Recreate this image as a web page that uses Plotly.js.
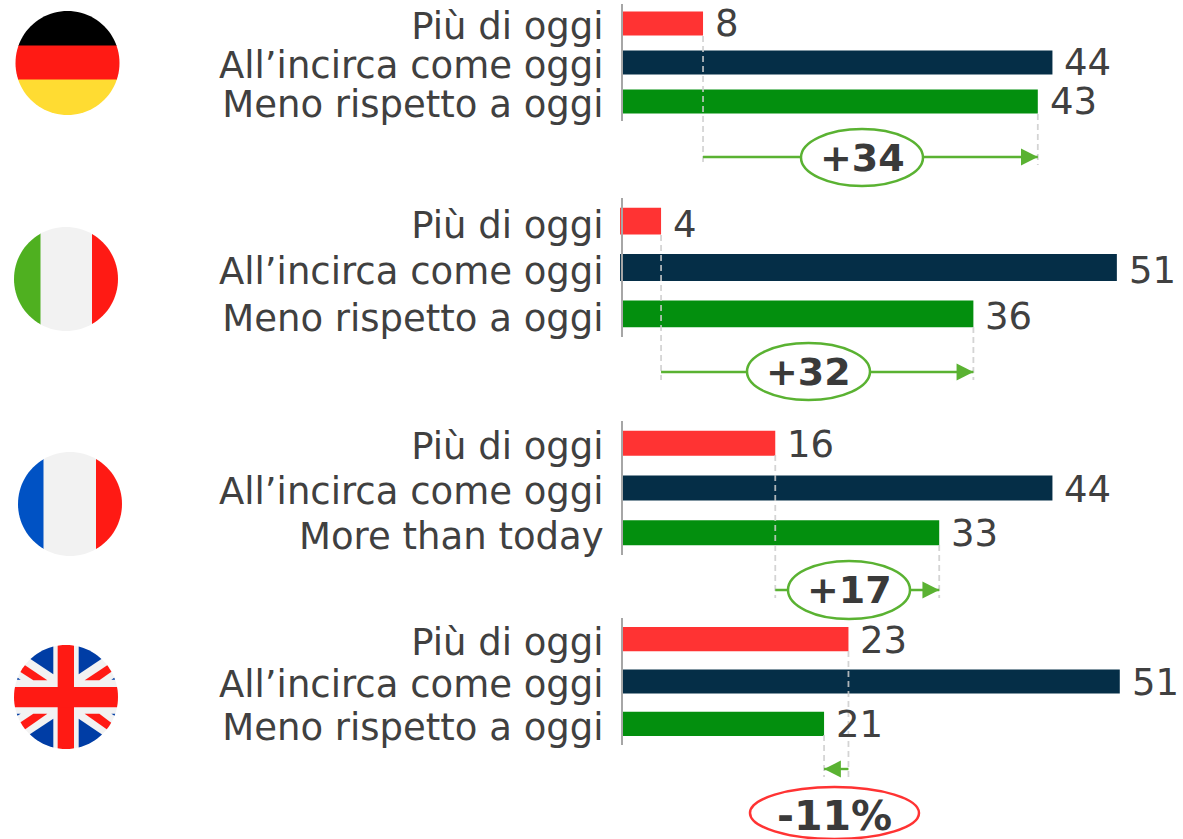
<!DOCTYPE html>
<html><head><meta charset="utf-8">
<script src="https://cdn.plot.ly/plotly-3.0.1.min.js"></script>
<style>html,body{margin:0;padding:0;background:#fff}#c{width:1183px;height:839px}</style></head>
<body><div id="c"></div>
<script>
const W = 1183, H = 839;
const labelsStd = ['Più di oggi', 'All’incirca come oggi', 'Meno rispetto a oggi'];
const labelsFr  = ['Più di oggi', 'All’incirca come oggi', 'More than today'];
// bar ends (unrounded), and the printed labels
const germanyValues = [8.2, 44.0, 42.5];
const italyValues   = [3.9, 50.6, 35.9];
const franceValues  = [15.6, 44.0, 32.4];
const ukValues      = [23.1, 50.9, 20.6];
const germanyLabels = ['8', '44', '43'];
const italyLabels   = ['4', '51', '36'];
const franceLabels  = ['16', '44', '33'];
const ukLabels      = ['23', '51', '21'];
const deltaLabels   = ['+34', '+32', '+17', '-11%'];
const barColors = ['#ff3333', '#052e47', '#038f0e'];
const green = '#5ab232', red = '#ff3333', ink = '#404040', font = '"DejaVu Sans", Verdana, sans-serif';
const pxPerUnit = 9.76, x0 = 623, plotLeft = 610;

const groups = [
  {cats: labelsStd, vals: germanyValues, txt: germanyLabels, ax: 'y',  top: 4,   bot: 121,   w: .62,  base: [0, 0, 0], shift: -3, vs: 0,
   dash: [36, 114, 165], arrowY: 157, ell: [801, 129, 923, 186], col: green, fs: 38},
  {cats: labelsStd, vals: italyValues,   txt: italyLabels,   ax: 'y2', top: 198, bot: 337,   w: .58,  base: [-.3, -.3, 0], shift: -4, vs: -3,
   dash: [235, 327, 380], arrowY: 372, ell: [747, 343, 870, 400], col: green, fs: 38},
  {cats: labelsFr,  vals: franceValues,  txt: franceLabels,  ax: 'y3', top: 421, bot: 555,   w: .56,  base: [0, 0, 0], shift: -3, vs: -1,
   dash: [455, 545, 598], arrowY: 590, ell: [788, 561, 910, 619], col: green, fs: 38},
  {cats: labelsStd, vals: ukValues,      txt: ukLabels,      ax: 'y4', top: 618, bot: 745,   w: .57,  base: [0, 0, 0], shift: -3, vs: -1,
   dash: [651, 735, 777], arrowY: 769, ell: [750, 787, 919, 839], col: red, fs: 41}
];

const traces = groups.map(g => ({
  type: 'bar', orientation: 'h', x: g.vals.map((v, k) => v - g.base[k]), y: g.cats, yaxis: g.ax, xaxis: 'x',
  base: g.base, width: g.w, hoverinfo: 'skip',
  marker: {color: barColors, line: {width: 0}}, showlegend: false
}));
traces.push({type: 'scatter', x: [0], y: [0], xaxis: 'x2', yaxis: 'y5', mode: 'none', hoverinfo: 'skip', showlegend: false});

const layout = {
  width: W, height: H, margin: {l: 0, r: 0, t: 0, b: 0, pad: 0},
  paper_bgcolor: '#fff', plot_bgcolor: 'rgba(0,0,0,0)', showlegend: false,
  font: {family: font, color: ink},
  xaxis: {domain: [plotLeft / W, 1], range: [(plotLeft - x0) / pxPerUnit, (W - x0) / pxPerUnit], visible: false, fixedrange: true},
  xaxis2: {domain: [0, 1], range: [0, W], visible: false, anchor: 'y5', fixedrange: true},
  yaxis5: {domain: [0, 1], range: [H, 0], visible: false, anchor: 'x2', fixedrange: true},
  shapes: [], annotations: []
};

groups.forEach((g, i) => {
  const key = i === 0 ? 'yaxis' : 'yaxis' + (i + 1);
  layout[key] = {
    domain: [1 - g.bot / H, 1 - g.top / H], anchor: 'free', position: (x0 - 1) / W, type: 'category',
    categoryorder: 'array', categoryarray: g.cats, autorange: false, range: [2.5, -.5],
    showgrid: false, zeroline: false, showline: true, linecolor: '#a6a6a6', linewidth: 2,
    ticks: '', ticklabelstandoff: 10, ticklabelshift: g.shift, dtick: 1, tickmode: 'linear', tick0: 0,
    tickfont: {family: font, size: 37, color: ink}, fixedrange: true
  };
  // value labels
  g.vals.forEach((v, k) => layout.annotations.push({
    xref: 'x', yref: g.ax, x: v, y: g.cats[k], text: g.txt[k], showarrow: false,
    xanchor: 'left', yanchor: 'middle', xshift: 10, yshift: g.vs, font: {family: font, size: 37, color: ink}
  }));
  const a = g.vals[0], b = g.vals[2];
  // dashed guides
  [[a, g.dash[0]], [b, g.dash[1]]].forEach(([v, y]) => layout.shapes.push({
    type: 'line', xref: 'x', yref: 'y5', x0: v, x1: v, y0: y, y1: g.dash[2],
    line: {color: 'rgba(205,205,205,.85)', width: 1.8, dash: '6px,4px'}
  }));
  // arrow shaft
  layout.shapes.push({type: 'line', xref: 'x', yref: 'y5', x0: a, x1: b, y0: g.arrowY, y1: g.arrowY,
    line: {color: green, width: 2.4}});
  // arrow head
  const dir = b > a ? 1 : -1;
  layout.annotations.push({xref: 'x', yref: 'y5', axref: 'x', ayref: 'y5', x: b, y: g.arrowY,
    ax: b - dir * 1.5, ay: g.arrowY, text: '', showarrow: true, arrowhead: 2, arrowsize: 1.4,
    arrowwidth: 2.4, arrowcolor: green, standoff: 0});
  // delta ellipse
  const e = g.ell;
  layout.shapes.push({type: 'circle', xref: 'x2', yref: 'y5', x0: e[0], y0: e[1], x1: e[2], y1: e[3],
    fillcolor: '#fff', line: {color: g.col, width: 2.5}});
  layout.annotations.push({xref: 'x2', yref: 'y5', x: (e[0] + e[2]) / 2, y: i === 3 ? 816 : (e[1] + e[3]) / 2 ,
    text: '<b>' + deltaLabels[i] + '</b>', showarrow: false, xanchor: 'center', yanchor: 'middle',
    font: {family: font, size: g.fs, color: '#3a3a3a'}});
});

// ---- flags: polygons clipped to a circle, drawn as shapes on the pixel axes ----
function clipToCircle(poly, cx, cy, r) {
  let out = poly;
  const n = 96;
  for (let i = 0; i < n && out.length; i++) {
    const a0 = i / n * 2 * Math.PI, a1 = (i + 1) / n * 2 * Math.PI;
    const A = [cx + r * Math.cos(a0), cy + r * Math.sin(a0)], B = [cx + r * Math.cos(a1), cy + r * Math.sin(a1)];
    const side = p => (B[0] - A[0]) * (p[1] - A[1]) - (B[1] - A[1]) * (p[0] - A[0]);
    const res = [];
    for (let k = 0; k < out.length; k++) {
      const P = out[k], Q = out[(k + 1) % out.length], sp = side(P), sq = side(Q);
      if (sp >= 0) res.push(P);
      if (sp * sq < 0) { const t = sp / (sp - sq); res.push([P[0] + t * (Q[0] - P[0]), P[1] + t * (Q[1] - P[1])]); }
    }
    out = res;
  }
  return out;
}
function addPoly(poly, color, cx, cy, r) {
  const c = clipToCircle(poly, cx, cy, r);
  if (c.length < 3) return;
  layout.shapes.push({type: 'path', xref: 'x2', yref: 'y5', layer: 'below', fillcolor: color,
    line: {width: 0}, path: 'M' + c.map(p => p[0].toFixed(2) + ',' + p[1].toFixed(2)).join('L') + 'Z'});
}
const rect = (a, b, c, d) => [[a, b], [c, b], [c, d], [a, d]];
const R = 52, fRed = '#ff1a14', fWhite = '#f2f2f2';
// Germany
addPoly(rect(15, 11, 120, 46), '#000', 67.5, 63, R);
addPoly(rect(15, 45.5, 120, 80), fRed, 67.5, 63, R);
addPoly(rect(15, 79.5, 120, 116), '#ffdc32', 67.5, 63, R);
// Italy
addPoly(rect(14, 227, 41, 331), '#4fb020', 66, 279, R);
addPoly(rect(40.5, 227, 92.5, 331), fWhite, 66, 279, R);
addPoly(rect(92, 227, 118, 331), fRed, 66, 279, R);
// France
addPoly(rect(18, 452, 44, 556), '#0052c4', 70, 504, R);
addPoly(rect(43.5, 452, 96.5, 556), fWhite, 70, 504, R);
addPoly(rect(96, 452, 122, 556), fRed, 70, 504, R);
// UK (outlined in 3x crop coordinates around its centre)
const uk = pts => pts.map(p => [66 + (p[0] - 198) / 3, 697 + (p[1] - 200) / 3]);
const ukBlue = '#003da5';
addPoly(rect(14, 645, 118, 749), fWhite, 66, 697, R);
[[[160, 40], [160, 132], [85, 82], [100, 40]], [[236, 40], [236, 132], [310, 82], [296, 40]],
 [[160, 360], [160, 265], [85, 315], [100, 360]], [[236, 360], [236, 265], [310, 315], [296, 360]],
 [[38, 148], [62, 148], [40, 133]], [[358, 148], [334, 148], [356, 133]],
 [[38, 250], [62, 250], [40, 265]], [[358, 250], [334, 250], [356, 265]]]
  .forEach(p => addPoly(uk(p), ukBlue, 66, 697, R));
[[[60, 124], [75, 105], [142, 150], [100, 150]], [[254, 150], [322, 105], [335, 124], [298, 150]],
 [[60, 277], [100, 250], [142, 250], [75, 297]], [[254, 250], [298, 250], [335, 278], [320, 297]]]
  .forEach(p => addPoly(uk(p), fRed, 66, 697, R));
addPoly(uk(rect(173, 40, 222, 360)), fRed, 66, 697, R);
addPoly(uk(rect(30, 170, 360, 231)), fRed, 66, 697, R);

Plotly.newPlot('c', traces, layout, {displayModeBar: false, staticPlot: true});
</script></body></html>
